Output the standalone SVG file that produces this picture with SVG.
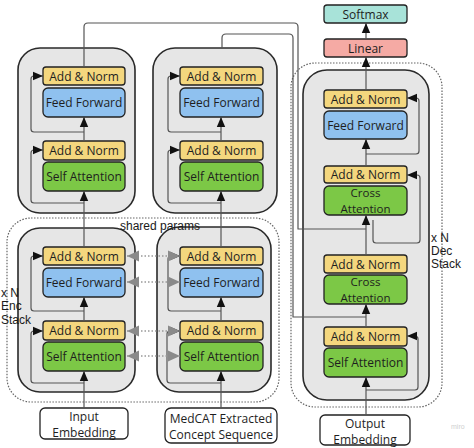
<svg xmlns="http://www.w3.org/2000/svg" width="474" height="448" viewBox="0 0 474 448">
<defs>
<marker id="ah" markerUnits="userSpaceOnUse" markerWidth="10" markerHeight="10" viewBox="0 0 10 10" refX="10" refY="5" orient="auto">
<path d="M0,0.8 L10,5 L0,9.2 Z" fill="#111"/>
</marker>
<marker id="gh" markerUnits="userSpaceOnUse" markerWidth="12" markerHeight="12" viewBox="0 0 12 12" refX="12" refY="6" orient="auto">
<path d="M0,0.5 L12,6 L0,11.5 Z" fill="#8a8a8a"/>
</marker>
<marker id="ghs" markerUnits="userSpaceOnUse" markerWidth="12" markerHeight="12" viewBox="0 0 12 12" refX="0" refY="6" orient="auto">
<path d="M12,0.5 L0,6 L12,11.5 Z" fill="#8a8a8a"/>
</marker>
</defs>
<style>
.blk{fill:#e6e6e6;stroke:#2a2a2a;stroke-width:1.6}
.dot{fill:none;stroke:#666;stroke-width:1.2;stroke-dasharray:1.5 1.5}
.an{fill:#f4d77e;stroke:#222;stroke-width:1.3}
.ff{fill:#8fc1ef;stroke:#222;stroke-width:1.3}
.sa{fill:#7cc846;stroke:#222;stroke-width:1.3}
.sm{fill:#a8e3d9;stroke:#222;stroke-width:1.3}
.ln{fill:#f5aaa4;stroke:#222;stroke-width:1.3}
.io{fill:#fff;stroke:#222;stroke-width:1.3}
.t{font-family:"Open Sans","Noto Sans",sans-serif;font-size:12px;fill:#1e1e1e;text-anchor:middle}
.t2{font-family:"Open Sans","Noto Sans",sans-serif;font-size:11.5px;fill:#1e1e1e;text-anchor:middle}
.l{font-family:"Liberation Sans",Arial,sans-serif;font-size:12px;fill:#1a1a1a}
.c{fill:none;stroke:#555;stroke-width:1.2;stroke-linejoin:round}
.a{marker-end:url(#ah)}
.g{fill:none;stroke:#999;stroke-width:1.3;stroke-dasharray:1.5 2;marker-end:url(#gh);marker-start:url(#ghs)}
</style>

<!-- outer dotted stacks -->
<rect class="dot" x="7" y="218" width="272" height="184" rx="24"/>
<rect class="dot" x="291" y="63" width="151" height="344" rx="24"/>

<!-- encoder blocks -->
<g id="enc1">
<rect class="blk" x="18" y="48" width="117" height="165" rx="22"/>
<rect class="an" x="43" y="67" width="82" height="18" rx="3"/><text class="t" x="84" y="80.5">Add &amp; Norm</text>
<rect class="ff" x="43" y="88" width="82" height="29" rx="5"/><text class="t" x="84" y="107">Feed Forward</text>
<rect class="an" x="43" y="141" width="82" height="19" rx="3"/><text class="t" x="84" y="155">Add &amp; Norm</text>
<rect class="sa" x="43" y="162" width="82" height="29" rx="5"/><text class="t" x="84" y="181">Self Attention</text>
</g>
<g id="enc2">
<rect class="blk" x="153" y="48" width="124" height="165" rx="22"/>
<rect class="an" x="180" y="67" width="83" height="18" rx="3"/><text class="t" x="221.5" y="80.5">Add &amp; Norm</text>
<rect class="ff" x="180" y="88" width="83" height="29" rx="5"/><text class="t" x="221.5" y="107">Feed Forward</text>
<rect class="an" x="180" y="141" width="83" height="19" rx="3"/><text class="t" x="221.5" y="155">Add &amp; Norm</text>
<rect class="sa" x="180" y="162" width="83" height="29" rx="5"/><text class="t" x="221.5" y="181">Self Attention</text>
</g>
<g id="enc3">
<rect class="blk" x="18" y="228" width="117" height="164" rx="22"/>
<rect class="an" x="43" y="247" width="82" height="18" rx="3"/><text class="t" x="84" y="260.5">Add &amp; Norm</text>
<rect class="ff" x="43" y="268" width="82" height="29" rx="5"/><text class="t" x="84" y="287">Feed Forward</text>
<rect class="an" x="43" y="321" width="82" height="19" rx="3"/><text class="t" x="84" y="335">Add &amp; Norm</text>
<rect class="sa" x="43" y="342" width="82" height="29" rx="5"/><text class="t" x="84" y="361">Self Attention</text>
</g>
<g id="enc4">
<rect class="blk" x="157" y="227" width="114" height="165" rx="22"/>
<rect class="an" x="180" y="247" width="83" height="18" rx="3"/><text class="t" x="221.5" y="260.5">Add &amp; Norm</text>
<rect class="ff" x="180" y="268" width="83" height="29" rx="5"/><text class="t" x="221.5" y="287">Feed Forward</text>
<rect class="an" x="180" y="321" width="83" height="19" rx="3"/><text class="t" x="221.5" y="335">Add &amp; Norm</text>
<rect class="sa" x="180" y="342" width="83" height="29" rx="5"/><text class="t" x="221.5" y="361">Self Attention</text>
</g>

<!-- decoder -->
<g id="dec">
<rect class="blk" x="303" y="70" width="126" height="330" rx="24"/>
<rect class="an" x="324" y="90" width="83" height="18" rx="3"/><text class="t" x="365.5" y="103.5">Add &amp; Norm</text>
<rect class="ff" x="324" y="111" width="83" height="28" rx="5"/><text class="t" x="365.5" y="129.5">Feed Forward</text>
<rect class="an" x="324" y="166" width="83" height="17" rx="3"/><text class="t" x="365.5" y="179">Add &amp; Norm</text>
<rect class="sa" x="324" y="186" width="83" height="29" rx="5"/><text class="t2" x="365.5" y="197">Cross</text><text class="t2" x="365.5" y="212.8">Attention</text>
<rect class="an" x="324" y="255" width="83" height="18" rx="3"/><text class="t" x="365.5" y="268.5">Add &amp; Norm</text>
<rect class="sa" x="324" y="275" width="83" height="29" rx="5"/><text class="t2" x="365.5" y="286">Cross</text><text class="t2" x="365.5" y="301.8">Attention</text>
<rect class="an" x="324" y="327" width="83" height="19" rx="3"/><text class="t" x="365.5" y="341">Add &amp; Norm</text>
<rect class="sa" x="324" y="348" width="83" height="29" rx="5"/><text class="t" x="365.5" y="367">Self Attention</text>
</g>
<g id="linear"><rect class="ln" x="324" y="39" width="83" height="18" rx="3"/><text class="t" x="365.5" y="52.5">Linear</text></g>
<g id="softmax"><rect class="sm" x="324" y="5" width="83" height="18" rx="3"/><text class="t" x="365.5" y="18.5">Softmax</text></g>

<!-- inputs -->
<g id="input"><rect class="io" x="40" y="408" width="88" height="31" rx="5"/><text class="t" x="84" y="421">Input</text><text class="t" x="84" y="437">Embedding</text></g>
<g id="medcat"><rect class="io" x="165" y="408" width="112" height="35" rx="6"/><text class="t" x="221" y="423">MedCAT Extracted</text><text class="t" x="221" y="439">Concept Sequence</text></g>
<g id="output"><rect class="io" x="320" y="415" width="90" height="30" rx="5"/><text class="t" x="365" y="428">Output</text><text class="t" x="365" y="444">Embedding</text></g>

<!-- connectors -->
<g id="connectors">
<path class="c a" d="M84,408 V371"/>
<path class="c a" d="M84,321 V297"/>
<path class="c a" d="M84,247 V191"/>
<path class="c a" d="M84,141 V117"/>
<path class="c a" d="M221,408 V371"/>
<path class="c a" d="M221,321 V297"/>
<path class="c a" d="M221,247 V191"/>
<path class="c a" d="M221,141 V117"/>
<path class="c a" d="M84,132 H34 Q31,132 31,129 V79 Q31,76 34,76 H43"/>
<path class="c a" d="M84,203 H34 Q31,203 31,200 V153 Q31,150 34,150 H43"/>
<path class="c a" d="M84,311 H34 Q31,311 31,308 V259 Q31,256 34,256 H43"/>
<path class="c a" d="M84,383 H34 Q31,383 31,380 V334 Q31,331 34,331 H43"/>
<path class="c a" d="M221,132 H171 Q168,132 168,129 V79 Q168,76 171,76 H180"/>
<path class="c a" d="M221,203 H171 Q168,203 168,200 V153 Q168,150 171,150 H180"/>
<path class="c a" d="M221,311 H171 Q168,311 168,308 V259 Q168,256 171,256 H180"/>
<path class="c a" d="M221,383 H170 Q167,383 167,380 V334 Q167,331 170,331 H180"/>
<path class="g" d="M127,256 H180"/>
<path class="g" d="M127,282 H180"/>
<path class="g" d="M127,331 H180"/>
<path class="g" d="M127,356 H180"/>
<path class="c" d="M84,67 V27 Q84,23 88,23 H294 Q298,23 298,27 V229 H366"/>
<path class="c" d="M222,48 V38 Q222,34 226,34 H289 Q293,34 293,38 V317 H366"/>
<path class="c a" d="M366,415 V377"/>
<path class="c a" d="M366,390 H415 Q418,390 418,387 V339 Q418,336 415,336 H407"/>
<path class="c a" d="M366,327 V304"/>
<path class="c a" d="M366,255 V215"/>
<path class="c a" d="M373,220 V240 Q373,243 376,243 H417 Q420,243 420,240 V178 Q420,175 417,175 H407"/>
<path class="c a" d="M366,166 V139"/>
<path class="c a" d="M366,154 H416 Q419,154 419,151 V101 Q419,98 416,98 H407"/>
<path class="c a" d="M366,90 V57"/>
<path class="c a" d="M366,39 V23"/>
</g>

<!-- labels -->
<text class="l" x="120" y="230">shared params</text>
<text class="l" x="1" y="297">x N</text>
<text class="l" x="1" y="310">Enc</text>
<text class="l" x="1" y="324">Stack</text>
<text class="l" x="431" y="242">x N</text>
<text class="l" x="431" y="255">Dec</text>
<text class="l" x="431" y="268">Stack</text>
<text x="451" y="429" font-family="Liberation Sans, Arial, sans-serif" font-size="7" fill="#cfcfcf">miro</text>
</svg>
